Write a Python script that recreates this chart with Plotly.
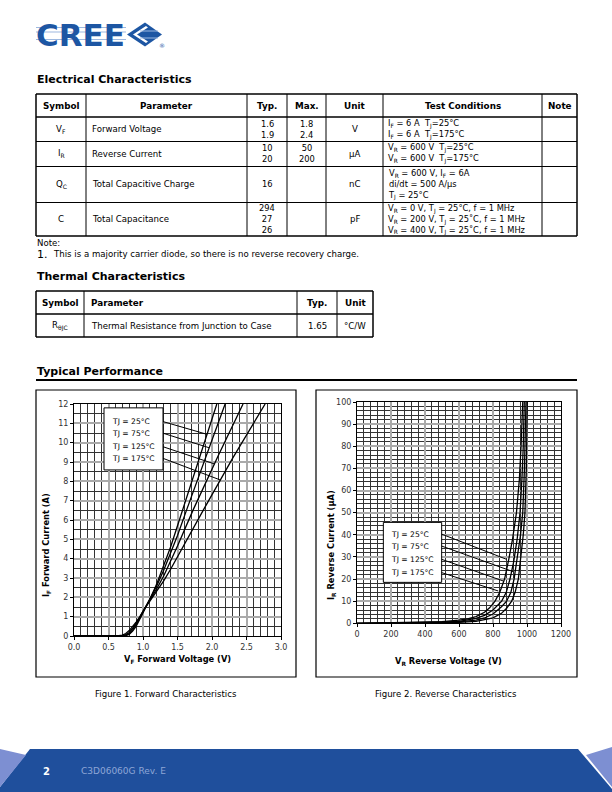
import plotly.graph_objects as go
import numpy as np

W, H = 612, 792
FONT = "DejaVu Sans"
BODY = 8.6
HEAD = 8.8

def X(p):
    return p / W

def Y(p):
    return 1 - p / H

# ---------------- data: Figure 1 (forward characteristics) ----------------
vf_25 = [0, 0.6, 0.7, 0.75, 0.8, 0.85, 0.9, 0.95, 1.0, 1.03, 1.1, 1.2, 1.3, 1.4, 1.5, 1.6, 1.8, 2.07]
if_25 = [0, 0, 0.005, 0.02, 0.08, 0.25, 0.5, 0.85, 1.22, 1.45, 1.9, 2.7, 3.6, 4.6, 5.7, 6.8, 9.0, 12]
vf_75 = [0, 0.6, 0.7, 0.75, 0.8, 0.85, 0.9, 0.95, 1.0, 1.03, 1.1, 1.2, 1.3, 1.4, 1.5, 1.64, 1.9, 2.19]
if_75 = [0, 0, 0.01, 0.04, 0.12, 0.32, 0.58, 0.9, 1.25, 1.45, 1.88, 2.6, 3.4, 4.25, 5.2, 6.6, 9.2, 12]
vf_125 = [0, 0.6, 0.65, 0.7, 0.75, 0.8, 0.85, 0.9, 0.95, 1.0, 1.03, 1.1, 1.2, 1.3, 1.4, 1.5, 1.73, 2.1, 2.45]
if_125 = [0, 0, 0.005, 0.02, 0.07, 0.18, 0.4, 0.66, 0.95, 1.28, 1.45, 1.85, 2.45, 3.1, 3.85, 4.65, 6.55, 9.4, 12]
vf_175 = [0, 0.55, 0.6, 0.65, 0.7, 0.75, 0.8, 0.85, 0.9, 0.95, 1.0, 1.03, 1.1, 1.2, 1.3, 1.4, 1.6, 1.88, 2.3, 2.77]
if_175 = [0, 0, 0.005, 0.02, 0.05, 0.13, 0.28, 0.48, 0.72, 0.98, 1.28, 1.45, 1.8, 2.3, 2.85, 3.45, 4.75, 6.55, 9.2, 12]

fwd_curves = [(vf_25, if_25), (vf_75, if_75), (vf_125, if_125), (vf_175, if_175)]
temp_labels = ["TJ = 25°C", "TJ = 75°C", "TJ = 125°C", "TJ = 175°C"]
fwd_leader_I = [10.43, 9.74, 8.9, 8.07]

# ---------------- data: Figure 2 (reverse characteristics) ----------------
vr_175 = [0, 200, 400, 500, 600, 650, 700, 750, 780, 812, 840, 868, 893, 915, 938, 955, 965, 975]
ir_175 = [0, 0.2, 0.5, 0.8, 1.4, 2.0, 3.0, 5.0, 7.0, 10, 14, 20, 29, 38, 50, 65, 80, 100]
vr_125 = [0, 200, 400, 600, 650, 700, 750, 800, 851, 878, 900, 922, 942, 959, 970, 978, 984]
ir_125 = [0, 0.1, 0.3, 0.9, 1.4, 2.2, 3.6, 6.0, 10, 14, 20, 28, 38, 50, 65, 80, 100]
vr_75 = [0, 400, 600, 700, 750, 800, 850, 880, 905, 924, 945, 962, 975, 985, 994]
ir_75 = [0, 0.2, 0.6, 1.4, 2.4, 4.2, 7.5, 10, 14, 20, 30, 40, 50, 70, 100]
vr_25 = [0, 400, 600, 700, 800, 850, 880, 910, 930, 949, 965, 978, 988, 996, 1002]
ir_25 = [0, 0.1, 0.4, 0.9, 2.5, 4.5, 6.8, 10, 14, 20, 30, 40, 50, 70, 100]

rev_curves = [(vr_25, ir_25), (vr_75, ir_75), (vr_125, ir_125), (vr_175, ir_175)]
rev_leader_end = [(880, 28.9), (920, 23.3), (861, 19.1), (831, 14.6)]

# ---------------- data: tables ----------------
elec_headers = ["Symbol", "Parameter", "Typ.", "Max.", "Unit", "Test Conditions", "Note"]
elec_symbols = ["V<sub>F</sub>", "I<sub>R</sub>", "Q<sub>C</sub>", "C"]
elec_params = ["Forward Voltage", "Reverse Current", "Total Capacitive Charge", "Total Capacitance"]
elec_typ = [["1.6", "1.9"], ["10", "20"], ["16"], ["294", "27", "26"]]
elec_max = [["1.8", "2.4"], ["50", "200"], [], []]
elec_unit = ["V", "µA", "nC", "pF"]
elec_cond = [
    ["I<sub>F</sub> = 6 A  T<sub>J</sub>=25°C", "I<sub>F</sub> = 6 A  T<sub>J</sub>=175°C"],
    ["V<sub>R</sub> = 600 V  T<sub>J</sub>=25°C", "V<sub>R</sub> = 600 V  T<sub>J</sub>=175°C"],
    ["V<sub>R</sub> = 600 V, I<sub>F</sub> = 6A", "di/dt = 500 A/µs", "T<sub>J</sub> = 25°C"],
    ["V<sub>R</sub> = 0 V, T<sub>J</sub> = 25°C, f = 1 MHz",
     "V<sub>R</sub> = 200 V, T<sub>J</sub> = 25˚C, f = 1 MHz",
     "V<sub>R</sub> = 400 V, T<sub>J</sub> = 25˚C, f = 1 MHz"],
]
therm_headers = ["Symbol", "Parameter", "Typ.", "Unit"]
therm_row = ["R<sub>θJC</sub>", "Thermal Resistance from Junction to Case", "1.65", "°C/W"]

# ---------------- layout geometry (pixels) ----------------
elec_cols = [36, 86, 247, 287, 326, 383, 542, 577]
elec_rows = [94, 117, 141.5, 166.5, 202.5, 236]
therm_cols = [36, 84, 297, 337, 373]
therm_rows = [291, 314, 337]

fig = go.Figure()

for (v, i), name in zip(fwd_curves, temp_labels):
    fig.add_trace(go.Scatter(x=v, y=i, mode="lines", name=name, line=dict(color="black", width=1.3),
                             xaxis="x", yaxis="y", showlegend=False, hoverinfo="skip"))
for (v, i), name in zip(rev_curves, temp_labels):
    fig.add_trace(go.Scatter(x=v, y=i, mode="lines", name=name, line=dict(color="black", width=1.3),
                             xaxis="x2", yaxis="y2", showlegend=False, hoverinfo="skip"))

shapes = []
ann = []

def hline(x0, x1, y, w=1, color="black"):
    shapes.append(dict(type="line", xref="paper", yref="paper", x0=X(x0), x1=X(x1), y0=Y(y), y1=Y(y),
                       line=dict(color=color, width=w)))

def vline(x, y0, y1, w=1, color="black"):
    shapes.append(dict(type="line", xref="paper", yref="paper", x0=X(x), x1=X(x), y0=Y(y0), y1=Y(y1),
                       line=dict(color=color, width=w)))

def text(x, y, s, size=BODY, anchor="center", bold=False, color="black", vanchor="middle", angle=0):
    ann.append(dict(xref="paper", yref="paper", x=X(x), y=Y(y), text=("<b>%s</b>" % s) if bold else s,
                    showarrow=False, xanchor=anchor, yanchor=vanchor, textangle=angle,
                    align="left" if anchor == "left" else "center", borderpad=0,
                    font=dict(family=FONT, size=size, color=color)))

def poly(points, fill, line_color=None, w=0):
    path = "M " + " L ".join("%f,%f" % (X(a), Y(b)) for a, b in points) + " Z"
    shapes.append(dict(type="path", xref="paper", yref="paper", path=path, fillcolor=fill,
                       line=dict(color=line_color or fill, width=w)))

# ---------------- header logo ----------------
text(35, 35, "CREE", size=31, anchor="left", bold=True, color="#1d56a3")
for yy in [27.5, 32, 39.5]:
    hline(36, 126, yy, w=1.2, color="#9db8e0")
poly([(127, 34.5), (145, 22.5), (162, 34.5), (145, 46.5)], "#1d56a3")
poly([(133, 34.5), (146, 26), (148, 27.5), (137, 34.5), (148, 41.5), (146, 43)], "white")
for yy in [31, 38]:
    shapes.append(dict(type="line", xref="paper", yref="paper", x0=X(140), x1=X(158), y0=Y(yy), y1=Y(yy),
                       line=dict(color="#9db8e0", width=1)))
text(158, 46, "®", size=6, anchor="left", color="#1d56a3")

# ---------------- electrical characteristics table ----------------
text(36, 80, "Electrical Characteristics", size=11, anchor="left", bold=True)
for k, yy in enumerate(elec_rows):
    hline(elec_cols[0], elec_cols[-1], yy, w=1.5 if k in (0, 1, len(elec_rows) - 1) else 1)
for k, xx in enumerate(elec_cols):
    vline(xx, elec_rows[0], elec_rows[-1], w=1.5 if k in (0, len(elec_cols) - 1) else 1)
hy = (elec_rows[0] + elec_rows[1]) / 2
for k, h in enumerate(elec_headers):
    text((elec_cols[k] + elec_cols[k + 1]) / 2, hy, h, size=HEAD, bold=True)
for r in range(4):
    cy = (elec_rows[r + 1] + elec_rows[r + 2]) / 2
    text((elec_cols[0] + elec_cols[1]) / 2, cy, elec_symbols[r])
    text(elec_cols[1] + 5, cy, elec_params[r], anchor="left")
    text((elec_cols[2] + elec_cols[3]) / 2, cy, "<br>".join(elec_typ[r]), size=8.3)
    if elec_max[r]:
        text((elec_cols[3] + elec_cols[4]) / 2, cy, "<br>".join(elec_max[r]), size=8.3)
    text((elec_cols[4] + elec_cols[5]) / 2, cy, elec_unit[r])
    text(elec_cols[5] + 4, cy, "<br>".join(elec_cond[r]), size=8.3, anchor="left")

text(36, 243, "Note:", anchor="left")
text(36, 254, "1.", size=11, anchor="left")
text(52, 254, "This is a majority carrier diode, so there is no reverse recovery charge.", anchor="left")

# ---------------- thermal characteristics table ----------------
text(36, 277, "Thermal Characteristics", size=11, anchor="left", bold=True)
for k, yy in enumerate(therm_rows):
    hline(therm_cols[0], therm_cols[-1], yy, w=1.5)
for k, xx in enumerate(therm_cols):
    vline(xx, therm_rows[0], therm_rows[-1], w=1.5 if k in (0, len(therm_cols) - 1) else 1)
hy = (therm_rows[0] + therm_rows[1]) / 2
cy = (therm_rows[1] + therm_rows[2]) / 2
for k in range(4):
    cx = (therm_cols[k] + therm_cols[k + 1]) / 2
    if k == 1:
        text(therm_cols[1] + 6, hy, therm_headers[k], size=HEAD, bold=True, anchor="left")
        text(therm_cols[1] + 6, cy, therm_row[k], anchor="left")
    else:
        text(cx, hy, therm_headers[k], size=HEAD, bold=True)
        text(cx, cy, therm_row[k])

# ---------------- typical performance ----------------
text(36, 371, "Typical Performance", size=11, anchor="left", bold=True)
hline(36, 577, 380, w=2)
shapes.append(dict(type="rect", xref="paper", yref="paper", x0=X(36), x1=X(296), y0=Y(390), y1=Y(677),
                   line=dict(color="black", width=1.2)))
shapes.append(dict(type="rect", xref="paper", yref="paper", x0=X(316), x1=X(577), y0=Y(390), y1=Y(677),
                   line=dict(color="black", width=1.2)))

# legend box and leader lines, figure 1
shapes.append(dict(type="rect", xref="x", yref="y", x0=0.435, x1=1.29, y0=8.59, y1=11.8,
                   fillcolor="white", line=dict(color="black", width=1), layer="above"))
f1_label_y = [11.09, 10.49, 9.79, 9.19]
for (v, i), lab, ly, li in zip(fwd_curves, temp_labels, f1_label_y, fwd_leader_I):
    ann.append(dict(xref="x", yref="y", x=0.52, y=ly, text=lab, showarrow=False, xanchor="left",
                    yanchor="middle", font=dict(family=FONT, size=7.6, color="black")))
    xe = float(np.interp(li, i, v))
    shapes.append(dict(type="line", xref="x", yref="y", x0=1.29, y0=ly, x1=xe, y1=li,
                       line=dict(color="black", width=1), layer="above"))

# legend box and leader lines, figure 2
shapes.append(dict(type="rect", xref="x2", yref="y2", x0=155, x1=498, y0=18.5, y1=45.6,
                   fillcolor="white", line=dict(color="black", width=1), layer="above"))
f2_label_y = [40.3, 34.9, 28.9, 22.9]
for lab, ly, (xe, ye) in zip(temp_labels, f2_label_y, rev_leader_end):
    ann.append(dict(xref="x2", yref="y2", x=188, y=ly, text=lab, showarrow=False, xanchor="left",
                    yanchor="middle", font=dict(family=FONT, size=7.6, color="black")))
    shapes.append(dict(type="line", xref="x2", yref="y2", x0=498, y0=ly, x1=xe, y1=ye,
                       line=dict(color="black", width=1), layer="above"))

# axis titles and captions
text(177, 659, "V<sub>F</sub> Forward Voltage (V)", size=8.3, bold=True)
text(46, 545, "I<sub>F</sub> Forward Current (A)", size=8.3, bold=True, angle=-90)
text(449, 661, "V<sub>R</sub> Reverse Voltage (V)", size=8.3, bold=True)
text(331, 545, "I<sub>R</sub> Reverse Current (µA)", size=8.3, bold=True, angle=-90)
text(166, 694, "Figure 1. Forward Characteristics", size=8.6)
text(446, 694, "Figure 2. Reverse Characteristics", size=8.6)

# ---------------- footer ----------------
poly([(30, 749), (578, 749), (612, 789), (612, 792), (0, 792), (0, 787)], "#1f4f9c")
poly([(0, 749), (26, 755), (0, 787)], "#7d8fd2")
poly([(586, 755), (612, 747), (612, 787)], "#7d8fd2")
text(42, 771, "2", size=10, bold=True, color="white", anchor="left")
text(80, 771, "C3D06060G Rev. E", size=9, color="#8ea6d6", anchor="left")

axis_common = dict(showline=True, linecolor="black", linewidth=1, mirror=True, ticks="outside",
                   ticklen=3, tickcolor="black", tickfont=dict(family=FONT, size=8, color="#333"),
                   zeroline=False, gridcolor="#aaaaaa", gridwidth=1.8, showgrid=True, automargin=False)

fig.update_layout(
    width=W, height=H, autosize=False,
    margin=dict(l=0, r=0, t=0, b=0, pad=0, autoexpand=False),
    paper_bgcolor="white", plot_bgcolor="white",
    showlegend=False,
    xaxis=dict(domain=[X(74), X(281)], range=[0, 3], dtick=0.5, tickformat=".1f", anchor="y",
               minor=dict(dtick=0.1, showgrid=True, gridcolor="#333333", gridwidth=0.6), **axis_common),
    yaxis=dict(domain=[Y(636), Y(404)], range=[0, 12], dtick=1, anchor="x",
               minor=dict(dtick=0.5, showgrid=True, gridcolor="#333333", gridwidth=0.6), **axis_common),
    xaxis2=dict(domain=[X(357), X(561)], range=[0, 1200], dtick=200, anchor="y2",
                minor=dict(dtick=40, showgrid=True, gridcolor="#333333", gridwidth=0.6), **axis_common),
    yaxis2=dict(domain=[Y(623.3), Y(402)], range=[0, 100], dtick=10, anchor="x2",
                minor=dict(dtick=2, showgrid=True, gridcolor="#333333", gridwidth=0.6), **axis_common),
    shapes=shapes, annotations=ann,
)

fig.write_html("out.html", config={"responsive": False, "displayModeBar": False},
               post_script="document.body.style.margin='0';document.body.style.padding='0';"
                           "document.documentElement.style.overflow='hidden';")
